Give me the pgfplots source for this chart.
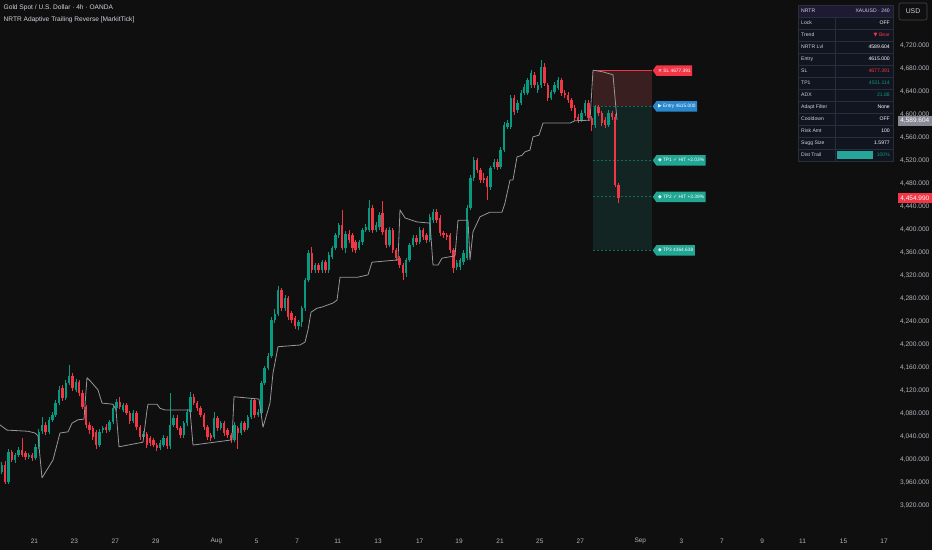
\documentclass[border=0pt]{standalone}
\usepackage{fontspec}
\setmainfont{Liberation Sans}
\newfontfamily\sym{DejaVu Sans}
\usepackage{pgfplots}
\usepackage{pgfplotstable}
\pgfplotsset{compat=1.18}
\usetikzlibrary{shapes.symbols}

\definecolor{bg}{RGB}{15,15,15}
\definecolor{cgreen}{RGB}{8,153,129}
\definecolor{cred}{RGB}{242,54,69}
\definecolor{trail}{RGB}{150,150,155}
\definecolor{scaletxt}{RGB}{178,181,190}
\definecolor{titletxt}{RGB}{209,212,220}
\definecolor{slzone}{RGB}{58,31,33}
\definecolor{tpzone}{RGB}{18,37,34}
\definecolor{tpdash}{RGB}{22,105,92}
\definecolor{entryblue}{RGB}{41,135,205}
\definecolor{tptag}{RGB}{34,166,148}
\definecolor{tblbg}{RGB}{17,21,31}
\definecolor{tblhead}{RGB}{30,26,52}
\definecolor{tblline}{RGB}{42,46,60}
\definecolor{pricegray}{RGB}{135,138,148}
\definecolor{usdline}{RGB}{67,70,81}
\definecolor{bar}{RGB}{38,166,154}

\pgfplotstableread{
x o h l c d
1.7 3979 3996 3975 3991 1
5.1 3992 3998 3958 3962 0
8.4 3962 4020 3958 4014 1
11.8 4014 4018 3996 4000 0
15.2 4000 4013 3995 4009 1
18.5 4009 4022 4005 4017 1
21.9 4017 4038 4005 4009 0
25.3 4012 4016 4000 4005 0
28.7 4005 4013 4001 4009 1
32.0 4009 4012 3998 4003 0
35.4 4003 4027 4000 4023 1
38.8 4023 4054 4019 4049 1
42.1 4050 4075 4046 4061 1
45.5 4061 4066 4044 4049 0
48.9 4049 4075 4045 4070 1
52.3 4070 4084 4066 4078 1
55.6 4078 4104 4075 4099 1
59.0 4099 4128 4095 4122 1
62.4 4125 4130 4103 4108 0
65.7 4108 4140 4104 4134 1
69.1 4134 4165 4130 4146 1
72.5 4146 4152 4120 4125 0
75.9 4122 4141 4118 4136 1
79.2 4136 4140 4112 4117 0
82.6 4117 4121 4088 4092 0
86.0 4092 4095 4055 4061 0
89.4 4061 4066 4046 4052 0
92.7 4056 4060 4035 4040 0
96.1 4049 4052 4020 4026 0
99.5 4026 4054 4022 4049 1
102.8 4052 4060 4047 4056 1
106.2 4057 4062 4047 4052 0
109.6 4052 4070 4048 4066 1
113.0 4066 4094 4062 4090 1
116.3 4090 4106 4086 4101 1
119.7 4101 4110 4088 4092 0
123.1 4087 4100 4083 4096 1
126.4 4096 4100 4078 4082 0
129.8 4082 4086 4063 4068 0
133.2 4068 4087 4064 4082 1
136.5 4082 4086 4052 4057 0
139.9 4057 4061 4035 4040 0
143.3 4040 4050 4036 4045 1
146.7 4045 4049 4021 4026 0
150.0 4038 4042 4025 4030 0
153.4 4035 4039 4022 4026 0
156.8 4026 4030 4016 4021 0
160.1 4021 4034 4017 4030 1
163.5 4026 4043 4022 4038 1
166.9 4038 4042 4019 4024 0
170.2 4024 4116 4020 4061 1
173.6 4061 4078 4057 4073 1
177.0 4073 4078 4052 4056 0
180.4 4056 4060 4038 4043 0
183.7 4043 4068 4039 4064 1
187.1 4064 4088 4060 4083 1
190.5 4083 4118 4080 4110 1
193.8 4110 4114 4095 4099 0
197.2 4099 4103 4086 4090 0
200.6 4090 4094 4074 4078 0
204.0 4078 4082 4052 4057 0
207.3 4057 4061 4035 4040 0
210.7 4043 4047 4033 4038 0
214.1 4040 4084 4036 4073 1
217.4 4073 4077 4051 4056 0
220.8 4056 4068 4052 4064 1
224.2 4064 4068 4042 4047 0
227.6 4052 4056 4038 4043 0
230.9 4043 4047 4030 4035 0
234.3 4035 4066 4031 4061 1
237.7 4056 4060 4020 4047 0
241.0 4047 4068 4043 4064 1
244.4 4064 4068 4048 4052 0
247.8 4056 4079 4052 4075 1
251.2 4075 4108 4071 4104 1
254.5 4104 4108 4073 4078 0
257.9 4078 4088 4074 4083 1
261.3 4082 4138 4078 4134 1
264.6 4134 4164 4130 4160 1
268.0 4160 4186 4156 4181 1
271.4 4181 4248 4177 4243 1
274.8 4243 4262 4238 4254 1
278.1 4254 4302 4250 4296 1
281.5 4296 4300 4259 4264 0
284.9 4264 4287 4260 4282 1
288.2 4282 4286 4244 4249 0
291.6 4256 4260 4238 4243 0
295.0 4247 4251 4228 4233 0
298.4 4233 4244 4226 4240 1
301.7 4240 4268 4232 4264 1
305.1 4264 4317 4260 4313 1
308.5 4313 4365 4309 4360 1
311.8 4360 4370 4325 4330 0
315.2 4330 4343 4325 4339 1
318.6 4339 4343 4326 4330 0
321.9 4330 4348 4325 4344 1
325.3 4344 4348 4325 4330 0
328.7 4330 4361 4326 4357 1
332.0 4353 4373 4349 4369 1
335.4 4369 4395 4365 4391 1
338.8 4391 4413 4386 4409 1
342.2 4409 4435 4365 4369 0
345.5 4369 4398 4360 4393 1
348.9 4393 4400 4378 4383 0
352.3 4391 4395 4362 4369 0
355.6 4379 4383 4360 4365 0
359.0 4369 4383 4365 4379 1
362.4 4379 4404 4374 4400 1
365.8 4400 4410 4396 4405 1
369.1 4400 4452 4396 4438 1
372.5 4438 4443 4395 4400 0
375.9 4400 4414 4396 4409 1
379.3 4405 4431 4400 4426 1
382.6 4430 4450 4392 4397 0
386.0 4400 4404 4369 4374 0
389.4 4374 4405 4370 4400 1
392.7 4400 4404 4360 4365 0
396.1 4365 4369 4346 4351 0
399.5 4351 4355 4334 4339 0
402.9 4339 4343 4313 4325 0
406.2 4325 4352 4318 4348 1
409.6 4348 4378 4344 4374 1
413.0 4374 4391 4370 4386 1
416.3 4386 4391 4374 4379 0
419.7 4379 4405 4375 4400 1
423.1 4400 4404 4383 4388 0
426.5 4391 4395 4378 4383 0
429.8 4383 4428 4379 4423 1
433.2 4417 4436 4413 4431 1
436.6 4431 4436 4412 4417 0
439.9 4421 4426 4390 4395 0
443.3 4395 4398 4386 4391 0
446.7 4391 4395 4383 4388 0
450.0 4391 4395 4360 4365 0
453.4 4365 4369 4325 4334 0
456.8 4336 4347 4330 4343 1
460.2 4336 4352 4330 4348 1
463.5 4344 4365 4340 4360 1
466.9 4351 4443 4347 4438 1
470.3 4438 4495 4434 4490 1
473.7 4490 4527 4486 4522 1
477.0 4522 4526 4499 4504 0
480.4 4504 4508 4482 4487 0
483.8 4490 4500 4482 4487 0
487.1 4490 4494 4452 4475 0
490.5 4475 4512 4470 4508 1
493.9 4510 4523 4506 4518 1
497.3 4518 4523 4505 4510 0
500.6 4510 4544 4506 4539 1
504.0 4539 4588 4535 4583 1
507.4 4579 4591 4575 4586 1
510.7 4579 4635 4575 4630 1
514.1 4630 4635 4600 4605 0
517.5 4609 4626 4604 4621 1
520.9 4621 4643 4617 4638 1
524.2 4638 4654 4634 4649 1
527.6 4638 4665 4634 4661 1
531.0 4652 4678 4647 4673 1
534.3 4670 4674 4647 4652 0
537.7 4643 4657 4639 4652 1
541.1 4652 4696 4647 4683 1
544.5 4683 4690 4651 4656 0
547.8 4652 4656 4625 4630 0
551.2 4630 4644 4626 4640 1
554.6 4640 4657 4636 4652 1
557.9 4647 4666 4643 4661 1
561.3 4661 4665 4633 4638 0
564.7 4638 4643 4630 4635 0
568.1 4635 4640 4621 4626 0
571.4 4626 4630 4607 4612 0
574.8 4612 4617 4590 4595 0
578.2 4597 4601 4586 4591 0
581.5 4591 4608 4587 4603 1
584.9 4603 4626 4599 4621 1
588.3 4621 4626 4590 4595 0
591.7 4595 4599 4572 4583 0
595.0 4583 4618 4578 4614 1
598.4 4614 4618 4598 4603 0
601.8 4603 4607 4581 4586 0
605.1 4591 4596 4578 4583 0
608.5 4583 4608 4579 4603 1
611.9 4603 4607 4592 4597 0
615.2 4597 4601 4474 4478 0
618.6 4478 4482 4447 4455 0
}\candles

\pgfplotstableread{
x p
0 4061
7 4052
28 4050
35 4047
38 4042
42 3969
47 3983
53 4000
60 4047
68 4049
72 4064
78 4070
84 4071
87 4143
91 4136
98 4122
102 4099
113 4097
116 4087
119 4023
143 4031
147 4087
148 4097
157 4097
160 4090
165 4087
190 4087
193 4026
232 4035
234 4110
259 4106
263 4057
270 4099
273 4151
278 4197
300 4200
305 4205
308 4226
311 4257
317 4264
322 4266
333 4273
337 4278
340 4318
358 4318
368 4322
372 4344
398 4348
400 4435
405 4421
417 4414
430 4412
433 4339
438 4339
442 4351
455 4355
458 4417
468 4417
470 4348
473 4397
480 4423
490 4431
502 4431
505 4447
510 4487
513 4487
517 4527
522 4530
525 4536
530 4539
533 4562
539 4565
543 4586
570 4586
575 4590
590 4591
593 4678
603 4675
613 4670
617 4591
}\trailtab

\newcommand{\fs}[1]{\fontsize{#1}{#1}\selectfont}

\begin{document}
\begin{tikzpicture}
\fill[bg] (0pt,-22pt) rectangle (932pt,528pt);
\begin{axis}[
  at={(0pt,0pt)}, anchor=south west,
  scale only axis, width=893pt, height=528pt,
  xmin=0, xmax=893, ymin=3881.74, ymax=4800,
  axis line style={draw=none}, tick style={draw=none},
  /pgf/number format/assume math mode=true,
  scaled y ticks=false,
  xtick={34.5,74.3,115.3,155.8,216.4,256.8,297.3,337.7,378.1,419.7,459,500,539.8,580.3,640.3,681.3,721.8,762.2,802.6,843.6,884},
  xticklabels={21,23,27,29,Aug,5,7,11,13,17,19,21,25,27,Sep,3,7,9,11,15,17},
  xticklabel style={font=\fs{6.5}, text=scaletxt, anchor=center, yshift=-13pt},
  ytick={3920,3960,...,4720},
  yticklabel pos=right,
  yticklabel style={font=\fs{6.6}, text=scaletxt, anchor=west, xshift=3.5pt,
    /pgf/number format/fixed, /pgf/number format/fixed zerofill,
    /pgf/number format/precision=3, /pgf/number format/1000 sep={,},
    /pgf/number format/assume math mode=true},
  candle/.style={draw=none, mark=none, forget plot,
    error bars/y dir=plus, error bars/y explicit, error bars/error mark=none},
]
% position zones
\addplot[fill=slzone, draw=none] coordinates {(593,4677.391) (652,4677.391) (652,4615) (593,4615)} -- cycle;
\addplot[fill=tpzone, draw=none] coordinates {(593,4615) (652,4615) (652,4364.638) (593,4364.638)} -- cycle;
\addplot[cred, line width=1pt] coordinates {(593,4677.391) (652,4677.391)};
\addplot[tpdash, line width=0.9pt, dash pattern=on 2pt off 2pt] coordinates {(593,4615) (652,4615)};
\addplot[tpdash, line width=0.9pt, dash pattern=on 2pt off 2pt] coordinates {(593,4521.114) (652,4521.114)};
\addplot[tpdash, line width=0.9pt, dash pattern=on 2pt off 2pt] coordinates {(593,4457.6) (652,4457.6)};
\addplot[tpdash, line width=0.9pt, dash pattern=on 2pt off 2pt] coordinates {(593,4364.638) (652,4364.638)};

% wicks
\addplot[candle, restrict expr to domain={\thisrow{d}}{0.5:1.5},
  error bars/error bar style={draw=cgreen, line width=0.7pt}]
  table[x=x, y=l, y error plus expr={\thisrow{h}-\thisrow{l}}] {\candles};
\addplot[candle, restrict expr to domain={\thisrow{d}}{-0.5:0.5},
  error bars/error bar style={draw=cred, line width=0.7pt}]
  table[x=x, y=l, y error plus expr={\thisrow{h}-\thisrow{l}}] {\candles};
% bodies
\addplot[candle, restrict expr to domain={\thisrow{d}}{0.5:1.5},
  error bars/error bar style={draw=cgreen, line width=2.4pt}]
  table[x=x, y=o, y error plus expr={\thisrow{c}-\thisrow{o}}] {\candles};
\addplot[candle, restrict expr to domain={\thisrow{d}}{-0.5:0.5},
  error bars/error bar style={draw=cred, line width=2.4pt}]
  table[x=x, y=c, y error plus expr={\thisrow{o}-\thisrow{c}}] {\candles};

% trailing line
\addplot[trail, line width=0.8pt, line join=round] table[x=x, y=p] {\trailtab};

% tags
\tikzset{tag/.style={signal, signal to=west, signal pointer angle=110, text=white,
  font=\fs{4.8}, inner xsep=1.6pt, inner ysep=1.2pt, minimum height=10.5pt, anchor=west}}
\node[tag, fill=cred] at (axis cs:652.5,4677.391) {{\sym ✕} SL 4677.391};
\node[tag, fill=entryblue] at (axis cs:652.5,4615) {{\sym ▶} Entry 4615.000};
\node[tag, fill=tptag] at (axis cs:652.5,4521.114) {{\sym ◆} TP1 {\sym ✓} HIT +2.03\%};
\node[tag, fill=tptag] at (axis cs:652.5,4457.6) {{\sym ◆} TP2 {\sym ✓} HIT +3.39\%};
\node[tag, fill=tptag] at (axis cs:652.5,4364.638) {{\sym ◆} TP3 4364.638};
\end{axis}

% title
\node[anchor=west, text=titletxt, font=\fs{6.6}, inner sep=0pt] at (3.5pt,520pt) {Gold Spot / U.S. Dollar · 4h · OANDA};
\node[anchor=west, text=titletxt, font=\fs{6.6}, inner sep=0pt] at (3.5pt,508pt) {NRTR Adaptive Trailing Reverse [MarkitTick]};

% USD box
\draw[usdline, rounded corners=2pt, line width=0.6pt] (899pt,508pt) rectangle (927pt,525pt);
\node[text=titletxt, font=\fs{6.8}] at (913pt,516.5pt) {USD};

% price tags
\node[fill=pricegray, text=white, font=\fs{6.5}, minimum height=10pt, minimum width=34pt, inner sep=1pt, anchor=east] at (932pt,407pt) {4,589.604};
\node[fill=cred, text=white, font=\fs{6.5}, minimum height=10pt, minimum width=34pt, inner sep=1pt, anchor=east] at (932pt,329.6pt) {4,454.990};

% table
\fill[tblbg] (798pt,367pt) rectangle (893pt,523pt);
\fill[tblhead] (798pt,511pt) rectangle (893pt,523pt);
\foreach \yy in {511,499,487,475,463,451,439,427,415,403,391,379}
  \draw[tblline, line width=0.5pt] (798pt,\yy pt) -- (893pt,\yy pt);
\draw[tblline, line width=0.5pt] (835pt,367pt) -- (835pt,511pt);
\draw[tblline, line width=0.6pt] (798pt,367pt) rectangle (893pt,523pt);
\fill[bar] (837pt,369pt) rectangle (873pt,377pt);
\begin{scope}[every node/.style={font=\fs{5.1}, inner sep=0pt}]
\node[anchor=west, text=titletxt] at (801pt,517pt) {NRTR};
\node[anchor=east, text=titletxt] at (890pt,517pt) {XAUUSD · 240};
\foreach \yy/\lab in {505/Lock,493/Trend,481/NRTR Lvl,469/Entry,457/SL,445/TP1,433/ADX,421/Adapt Filter,409/Cooldown,397/Risk Amt,385/Sugg Size,373/Dist Trail}
  \node[anchor=west, text=titletxt] at (801pt,\yy pt) {\lab};
\node[anchor=east, text=white] at (890pt,505pt) {OFF};
\node[anchor=east, text=cred] at (890pt,493pt) {{\sym ▼} Bear};
\node[anchor=east, text=white] at (890pt,481pt) {4589.604};
\node[anchor=east, text=white] at (890pt,469pt) {4615.000};
\node[anchor=east, text=cred] at (890pt,457pt) {4677.391};
\node[anchor=east, text=cgreen] at (890pt,445pt) {4521.114};
\node[anchor=east, text=cgreen] at (890pt,433pt) {21.88};
\node[anchor=east, text=white] at (890pt,421pt) {None};
\node[anchor=east, text=white] at (890pt,409pt) {OFF};
\node[anchor=east, text=white] at (890pt,397pt) {100};
\node[anchor=east, text=white] at (890pt,385pt) {1.5977};
\node[anchor=east, text=cgreen] at (890pt,373pt) {100\%};
\end{scope}

\pgfresetboundingbox
\useasboundingbox (0pt,-22pt) rectangle (932pt,528pt);
\end{tikzpicture}
\end{document}
